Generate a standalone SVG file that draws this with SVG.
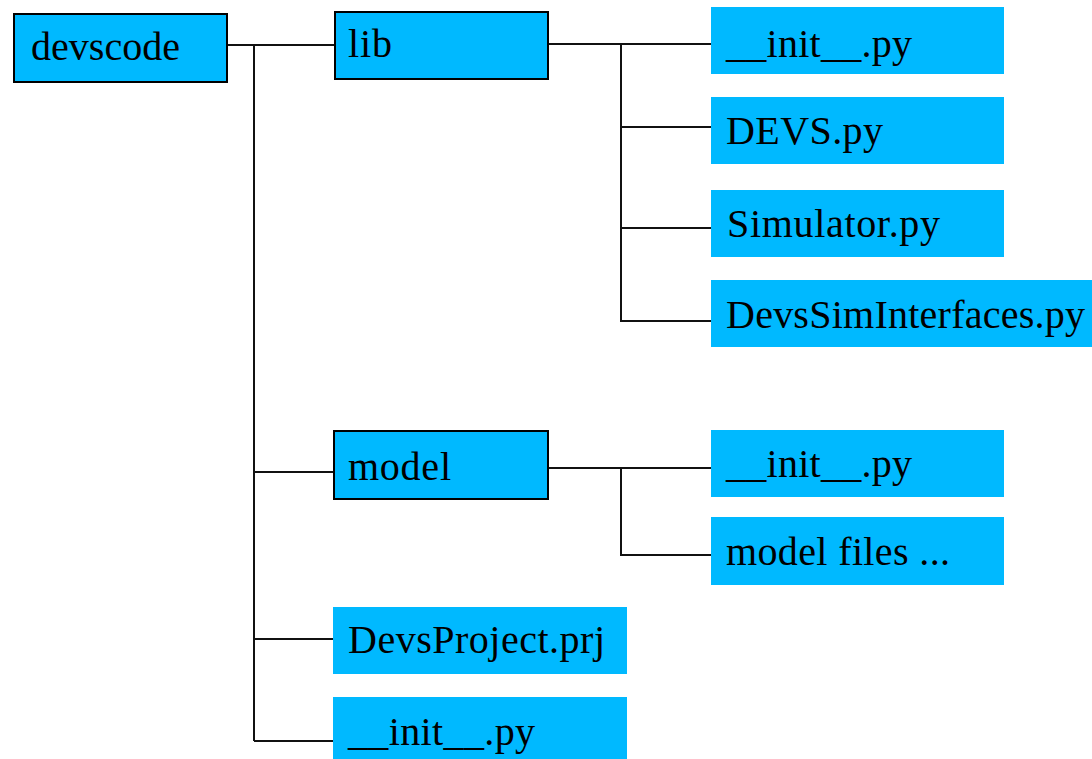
<svg xmlns="http://www.w3.org/2000/svg" width="1092" height="759" viewBox="0 0 1092 759">
  <style>
    .dir { fill: #00b9ff; stroke: #000; stroke-width: 2; }
    .file { fill: #00b9ff; }
    .lbl { font-family: 'Liberation Serif', 'DejaVu Serif', 'Times New Roman', serif; font-size: 40px; fill: #000; }
    .wire { fill: none; stroke: #111; stroke-width: 2; }
  </style>
  <rect width="1092" height="759" fill="#fff"/>

  <!-- tree connectors -->
  <g id="connectors">
    <path class="wire" d="M227 45 H335"/>
    <path class="wire" d="M254 45 V741"/>
    <path class="wire" d="M254 472 H334"/>
    <path class="wire" d="M254 639 H333"/>
    <path class="wire" d="M254 741 H333"/>
    <path class="wire" d="M548 44 H711"/>
    <path class="wire" d="M621 44 V321 H711"/>
    <path class="wire" d="M621 127 H711"/>
    <path class="wire" d="M621 228 H711"/>
    <path class="wire" d="M548 468 H711"/>
    <path class="wire" d="M621 468 V555 H711"/>
  </g>

  <!-- root folder -->
  <g id="devscode">
    <rect class="dir" x="14" y="14" width="213" height="68"/>
    <text class="lbl" x="31" y="60" textLength="149" lengthAdjust="spacing">devscode</text>
  </g>

  <!-- lib package -->
  <g id="lib">
    <rect class="dir" x="335" y="12" width="213" height="67"/>
    <text class="lbl" x="348" y="57" textLength="44" lengthAdjust="spacing">lib</text>
  </g>
  <g id="lib-init">
    <rect class="file" x="711" y="7" width="293" height="67"/>
    <text class="lbl" x="726" y="57" textLength="186" lengthAdjust="spacing">__init__.py</text>
  </g>
  <g id="lib-devs">
    <rect class="file" x="711" y="97" width="293" height="67"/>
    <text class="lbl" x="726" y="144" textLength="157" lengthAdjust="spacing">DEVS.py</text>
  </g>
  <g id="lib-simulator">
    <rect class="file" x="711" y="190" width="293" height="67"/>
    <text class="lbl" x="727" y="237" textLength="213" lengthAdjust="spacing">Simulator.py</text>
  </g>
  <g id="lib-interfaces">
    <rect class="file" x="711" y="280" width="381" height="67"/>
    <text class="lbl" x="726" y="328" textLength="359" lengthAdjust="spacing">DevsSimInterfaces.py</text>
  </g>

  <!-- model package -->
  <g id="model">
    <rect class="dir" x="334" y="431" width="214" height="68"/>
    <text class="lbl" x="348" y="480" textLength="103" lengthAdjust="spacing">model</text>
  </g>
  <g id="model-init">
    <rect class="file" x="711" y="430" width="293" height="67"/>
    <text class="lbl" x="726" y="477" textLength="186" lengthAdjust="spacing">__init__.py</text>
  </g>
  <g id="model-files">
    <rect class="file" x="711" y="517" width="293" height="68"/>
    <text class="lbl" x="726" y="565" textLength="224" lengthAdjust="spacing">model files ...</text>
  </g>

  <!-- top-level files -->
  <g id="project">
    <rect class="file" x="333" y="607" width="294" height="67"/>
    <text class="lbl" x="348" y="653" textLength="257" lengthAdjust="spacing">DevsProject.prj</text>
  </g>
  <g id="root-init">
    <rect class="file" x="333" y="697" width="294" height="70"/>
    <text class="lbl" x="348" y="745" textLength="187" lengthAdjust="spacing">__init__.py</text>
  </g>
</svg>
